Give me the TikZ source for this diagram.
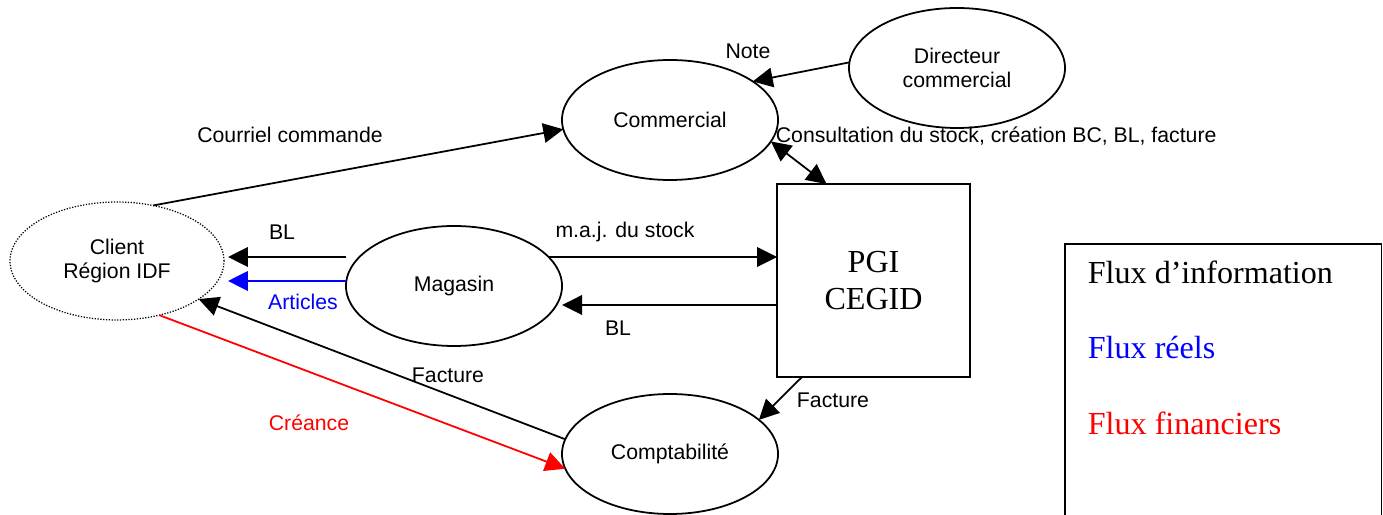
\documentclass[tikz,border=0pt]{standalone}
\usepackage{fontspec}
\setmainfont{Liberation Sans}
\newfontfamily\timesfont{Liberation Serif}
\usetikzlibrary{arrows.meta,calc,shapes.geometric,positioning}

\begin{document}
\begin{tikzpicture}[x=0.48pt, y=-0.48pt, >={Triangle[length=9.6pt,width=9.4pt]}, line width=0.85pt,
    font=\fontsize{10.2}{11.4}\selectfont,
    acteur/.style={ellipse, draw, minimum width=103.7pt, minimum height=57.6pt, inner sep=0pt, outer sep=0pt, align=center},
    legende/.style={font=\timesfont\fontsize{15.4}{17.8}\selectfont, anchor=base west, inner sep=0pt}]

  \useasboundingbox (0,0) rectangle (1383,515);

  \node[acteur, minimum width=102.7pt, minimum height=56.6pt, line width=0.6pt,
        dash pattern=on 0.6pt off 0.75pt]          (client)     at (117,261)   {Client\\Région IDF};
  \node[acteur]                                     (commercial) at (670,120)   {Commercial};
  \node[acteur]                                     (directeur)  at (957,68)    {Directeur\\commercial};
  \node[acteur]                                     (magasin)    at (454,286)   {Magasin};
  \node[acteur]                                     (compta)     at (670,454)   {Comptabilité};
  \node[draw, minimum size=92.6pt, inner sep=0pt, outer sep=0pt, line width=0.85pt, align=center,
        font=\timesfont\fontsize{15.4}{17.8}\selectfont] (pgi) at (873.5,280.5) {PGI\\CEGID};

  % legende
  \node[draw, anchor=north west, minimum width=151.9pt, minimum height=144pt, inner sep=0pt, outer sep=0pt] (cadre) at (1065,244) {};
  \node[legende]              (linfo) at (1087,284) {Flux d’information};
  \node[legende, text=blue]   (lreel) at (1087,359) {Flux réels};
  \node[legende, text=red]    (lfin)  at (1087,434) {Flux financiers};

  \path[->] (client.57)                      edge              (commercial.185)
            (directeur.177)                  edge              (commercial.25)
            (commercial.348)                 edge [<->]        ($(pgi.north)+(-47,0)$)
            ($(magasin.west)+(0,-29)$)       edge              ($(client.east)+(4,-4)$)
            ($(magasin.west)+(0,-5)$)        edge [blue]       ($(client.east)+(4,20)$)
            (magasin.17)                     edge              ($(pgi.west)+(0,-23.5)$)
            ($(pgi.west)+(0,24.5)$)          edge              ($(magasin.east)+(0,19)$)
            ($(pgi.south west)+(25,0)$)      edge              (compta.21)
            (compta.172)                     edge              (client.335)
            (client.308)                     edge [red]        (compta.188);

  % etiquettes
  \node (lcourriel) at (290,135) {Courriel commande};
  \node (lnote)     at (748,51)  {Note};
  \node[anchor=west, inner sep=0pt] (lconsult) at (775,136) {Consultation du stock, création BC, BL, facture};
  \node (lbl)       at (282,232) {BL};
  \node[text=blue] (larticles) at (303,302) {Articles};
  \node (lmaj)      at (625,232) {m.a.j. du stock};
  \node (lblpgi)    at (618,328) {BL};
  \node (lfactpgi)  at (833,400) {Facture};
  \node (lfact)     at (448,375) {Facture};
  \node[text=red]  (lcreance) at (309,423) {Créance};
\end{tikzpicture}
\end{document}
